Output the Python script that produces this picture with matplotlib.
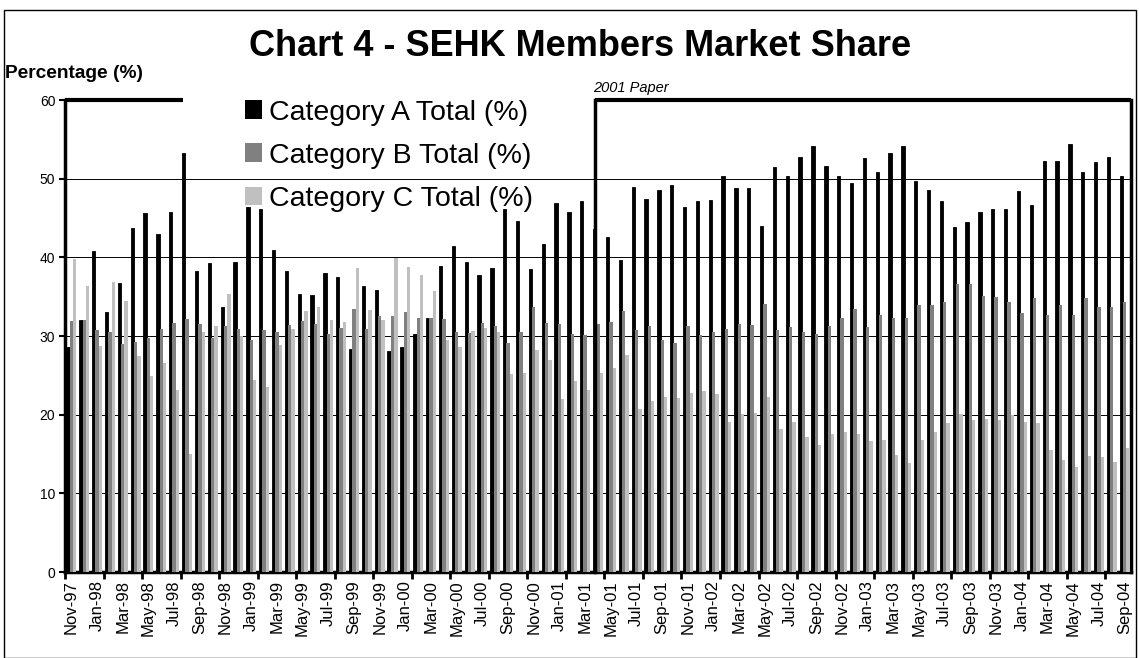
import numpy as np
import pandas as pd
import matplotlib
matplotlib.use('Agg')
import matplotlib.pyplot as plt
from matplotlib.patches import Patch, Rectangle

plt.rcParams['font.family'] = ['Liberation Sans', 'DejaVu Sans']

# monthly categories Nov-97 .. Sep-04
months = pd.date_range('1997-11-01', '2004-09-01', freq='MS').strftime('%b-%y').tolist()

cat_a = [28.6, 32.0, 40.8, 33.0, 36.8, 43.7, 45.6, 43.0, 45.7, 53.3,
         38.3, 39.3, 33.7, 39.4, 46.4, 46.1, 40.9, 38.2, 35.3, 35.2,
         38.0, 37.5, 28.3, 36.3, 35.8, 28.1, 28.6, 30.3, 32.3, 38.9,
         41.4, 39.4, 37.8, 38.6, 46.1, 44.6, 38.5, 41.7, 46.9, 45.8,
         47.1, 43.6, 42.6, 39.6, 49.0, 47.4, 48.6, 49.2, 46.4, 47.2,
         47.3, 50.4, 48.8, 48.8, 44.0, 51.5, 50.3, 52.7, 54.1, 51.6,
         50.4, 49.5, 52.6, 50.9, 53.2, 54.2, 49.7, 48.6, 47.1, 43.8,
         44.5, 45.8, 46.1, 46.1, 48.4, 46.6, 52.2, 52.3, 54.4, 50.8,
         52.1, 52.7, 50.3]
cat_b = [31.9, 32.0, 30.8, 30.5, 29.0, 29.2, 29.8, 30.9, 31.7, 32.2,
         31.5, 29.7, 31.3, 30.9, 29.5, 30.8, 30.5, 31.4, 31.9, 31.5,
         30.3, 31.0, 33.4, 30.9, 32.5, 32.5, 33.1, 32.3, 32.3, 32.1,
         30.5, 30.4, 31.7, 31.3, 29.1, 30.5, 33.7, 31.7, 31.5, 30.3,
         30.1, 31.5, 31.8, 33.2, 30.8, 31.3, 29.5, 29.1, 31.3, 30.1,
         30.5, 30.9, 31.5, 31.4, 34.1, 30.8, 31.1, 30.5, 30.3, 31.3,
         32.3, 33.4, 31.1, 32.7, 32.3, 32.3, 33.9, 33.9, 34.3, 36.6,
         36.6, 35.1, 35.0, 34.3, 32.9, 34.8, 32.7, 33.9, 32.7, 34.8,
         33.7, 33.7, 34.3]
cat_c = [39.8, 36.4, 28.7, 36.9, 34.4, 27.5, 24.9, 26.6, 23.1, 15.0,
         30.5, 31.3, 35.3, 30.0, 24.4, 23.5, 28.9, 30.9, 33.2, 33.7,
         32.0, 31.8, 38.6, 33.3, 32.0, 39.9, 38.8, 37.8, 35.7, 29.5,
         28.6, 30.6, 31.0, 30.5, 25.2, 25.3, 28.2, 26.9, 22.0, 24.3,
         23.1, 25.3, 25.9, 27.6, 20.7, 21.7, 22.2, 22.1, 22.8, 23.0,
         22.6, 19.1, 20.1, 20.2, 22.2, 18.2, 19.1, 17.2, 16.1, 17.5,
         17.8, 17.5, 16.7, 16.8, 14.9, 13.9, 16.8, 17.8, 18.9, 20.1,
         19.3, 19.4, 19.3, 20.0, 19.1, 18.9, 15.5, 14.2, 13.3, 14.7,
         14.6, 14.0, 15.8]
labels = ['Category A Total (%)', 'Category B Total (%)', 'Category C Total (%)']
colors = ['#000000', '#808080', '#c0c0c0']

W, H = 1139, 658
fig = plt.figure(figsize=(W / 100, H / 100), dpi=100)
ax = fig.add_axes([65 / W, 1 - 572 / H, (1131 - 65) / W, (572 - 100) / H])

x = np.arange(len(months))
bw = 0.26
ax.bar(x - bw, cat_a, bw, color=colors[0], edgecolor='black', linewidth=0.6, zorder=3)
ax.bar(x, cat_b, bw, color=colors[1], linewidth=0, zorder=3)
ax.bar(x + bw, cat_c, bw, color=colors[2], linewidth=0, zorder=3)

ax.set_xlim(-0.5, len(months) - 0.5)
ax.set_ylim(0, 60)
ax.set_yticks(range(0, 61, 10))
for yv in range(10, 60, 10):
    ax.axhline(yv, color='black', lw=0.7, zorder=1)

ax.set_xticks(x[::2])
ax.set_xticklabels(months[::2], rotation=90, fontsize=12)
ax.set_xticks(np.arange(-0.5, len(months), 3), minor=True)
ax.tick_params(axis='x', which='major', length=0, pad=6)
ax.tick_params(axis='x', which='minor', length=5, width=2, direction='out')
ax.tick_params(axis='y', labelsize=10, length=4, width=1.5, direction='out', pad=3)

for s in ['left', 'bottom', 'right']:
    ax.spines[s].set_linewidth(2.5)
ax.spines['top'].set_visible(False)

# bracket lines ("2001 Paper" box and early segment)
ax.plot([-0.5, 8.7], [60, 60], color='black', lw=3, clip_on=False, zorder=4, solid_capstyle='butt')
ax.plot([40.75, 82.5], [60, 60], color='black', lw=3, clip_on=False, zorder=4, solid_capstyle='butt')
ax.plot([40.75, 40.75], [0, 60], color='black', lw=2.5, clip_on=False, zorder=4)
ax.text(40.6, 60.6, '2001 Paper', fontsize=10.5, style='italic', ha='left', va='bottom')

handles = [Patch(facecolor=c, edgecolor='none') for c in colors]
ax.legend(handles, labels, loc='upper left', bbox_to_anchor=(0.158, 1.025), frameon=False,
          fontsize=20.5, handlelength=0.62, handleheight=0.62, handletextpad=0.22,
          labelspacing=0.6, borderaxespad=0)

fig.text(580 / W, 1 - 47 / H, 'Chart 4 - SEHK Members Market Share', fontsize=26,
         fontweight='bold', ha='center', va='center')
fig.text(5 / W, 1 - 73 / H, 'Percentage (%)', fontsize=13.8, fontweight='bold',
         ha='left', va='center')

fig.patches.append(Rectangle((4 / W, 0), 1132 / W, 1 - 10 / H, transform=fig.transFigure,
                             fill=False, edgecolor='black', lw=1))

fig.savefig('out.png', dpi=100)
